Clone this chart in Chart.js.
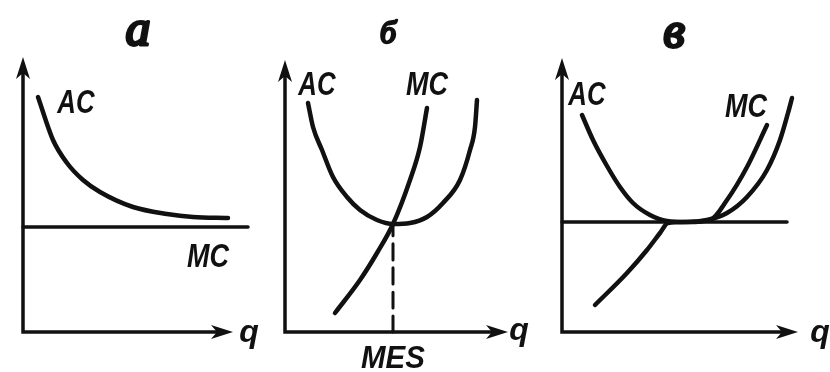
<!DOCTYPE html>
<html>
<head>
<meta charset="utf-8">
<script src="https://cdn.jsdelivr.net/npm/chart.js@4.4.1/dist/chart.umd.min.js"></script>
<style>
  body { margin: 0; background: #fff; }
  #wrap { position: relative; width: 830px; height: 372px; overflow: hidden; background: #fff; }
  #wrap canvas { position: absolute; top: 0; }
</style>
</head>
<body>
<div id="wrap"></div>
<script>
// а — falling AC over a flat MC
const acA_q = [1.5, 3.0, 4.4, 6.0, 7.7, 11.0, 14.4, 17.0, 20.5];
const acA_c = [23.5, 19.2, 16.9, 15.2, 14.0, 12.5, 11.8, 11.5, 11.4];
const mcA_q = [0, 22.5];
const mcA_c = [10.5, 10.5];

// б — U-shaped AC, MC crossing at its minimum (MES)
const acB_q = [2.3, 2.8, 3.7, 4.8, 6.2, 7.5, 9.2, 10.8, 12.5, 14.2, 15.8, 17.5, 18.5, 19.0, 19.2];
const acB_c = [22.9, 20.5, 18.2, 15.5, 13.5, 12.2, 11.2, 10.8, 10.9, 11.5, 12.9, 15.2, 18.2, 20.5, 23.2];
const mcB_q = [5.0, 7.5, 9.2, 10.8, 12.5, 13.5, 14.2];
const mcB_c = [1.9, 5.2, 7.9, 10.8, 15.2, 18.5, 22.4];
const mesB = 10.8;

// в — AC with a flat bottom, MC along the flat stretch
const acC_q = [2.0, 3.1, 4.5, 5.8, 7.1, 8.8, 10.5, 12.5, 14.5, 16.5, 18.5, 20.5, 21.8, 22.6, 23.0];
const acC_c = [21.7, 19.2, 16.6, 14.5, 12.9, 11.7, 11.1, 11.0, 11.2, 11.9, 13.5, 16.2, 19.2, 21.9, 23.4];
const mcC_q = [3.3, 6.5, 8.5, 9.8, 10.6, 12.5, 14.8, 16.5, 18.5, 20.5];
const mcC_c = [2.7, 5.9, 8.2, 9.9, 10.9, 11.0, 11.2, 13.2, 16.5, 20.7];
const minC_q = [0, 22.5];
const minC_c = [11.0, 11.0];

const pts = (qs, cs) => qs.map((q, i) => ({ x: q, y: cs[i] }));

const ink = '#111';
const labelFont = "italic bold 30px 'Liberation Sans', sans-serif";
const titleFont = "italic 50px 'Liberation Serif', serif";
const qFont = "italic bold 32px 'Liberation Sans', sans-serif";

function curve(data, width, dash) {
    return {
        data: data,
        borderColor: ink,
        borderWidth: width || 4.5,
        borderDash: dash || [],
        borderCapStyle: 'round',
        pointRadius: 0,
        fill: false,
        cubicInterpolationMode: 'monotone',
        clip: false
    };
}

function arrowHead(ctx, x, y, angle) {
    ctx.save();
    ctx.translate(x, y);
    ctx.rotate(angle);
    ctx.beginPath();
    ctx.moveTo(0, 0);
    ctx.lineTo(-22, -7);
    ctx.lineTo(-16, 0);
    ctx.lineTo(-22, 7);
    ctx.closePath();
    ctx.fill();
    ctx.restore();
}

// axes with arrowheads, drawn from the chart's own scales
const axesPlugin = {
    id: 'arrowAxes',
    beforeDatasetsDraw(chart, args, opts) {
        const { ctx, scales: { x, y } } = chart;
        const x0 = x.getPixelForValue(0), y0 = y.getPixelForValue(0);
        const xe = x.getPixelForValue(opts.qEnd), ye = y.getPixelForValue(opts.cEnd);
        ctx.save();
        ctx.strokeStyle = ink;
        ctx.fillStyle = ink;
        ctx.lineWidth = 3.5;
        ctx.lineCap = 'square';
        ctx.beginPath();
        ctx.moveTo(x0, ye + 10);
        ctx.lineTo(x0, y0);
        ctx.lineTo(xe - 10, y0);
        ctx.stroke();
        arrowHead(ctx, x0, ye, -Math.PI / 2);
        arrowHead(ctx, xe, y0, 0);
        ctx.restore();
    }
};

const labelsPlugin = {
    id: 'panelLabels',
    afterDatasetsDraw(chart, args, opts) {
        const { ctx, scales: { x, y } } = chart;
        ctx.save();
        ctx.fillStyle = ink;
        ctx.strokeStyle = ink;
        ctx.lineJoin = 'round';
        ctx.textAlign = 'center';
        ctx.textBaseline = 'alphabetic';
        opts.items.forEach(l => {
            ctx.save();
            ctx.translate(x.getPixelForValue(l.q), y.getPixelForValue(l.c));
            ctx.scale(l.sx || 1, l.sy || 1);
            ctx.font = l.font;
            ctx.fillText(l.text, 0, 0);
            if (l.weight) {
                // thicken the thin italic strokes
                ctx.lineWidth = l.weight;
                ctx.strokeText(l.text, 0, 0);
            }
            ctx.restore();
        });
        ctx.restore();
    }
};

function panel(left, datasets, axisEnd, labels) {
    const canvas = document.createElement('canvas');
    canvas.width = 290;
    canvas.height = 372;
    canvas.style.left = left + 'px';
    document.getElementById('wrap').appendChild(canvas);

    return new Chart(canvas.getContext('2d'), {
        type: 'line',
        data: { datasets: datasets },
        options: {
            responsive: false,
            animation: false,
            events: [],
            layout: { padding: { left: 20, right: 20, top: 52, bottom: 40 } },
            scales: {
                x: { type: 'linear', min: 0, max: 25, display: false },
                y: { type: 'linear', min: 0, max: 28, display: false }
            },
            plugins: {
                legend: { display: false },
                tooltip: { enabled: false },
                arrowAxes: axisEnd,
                panelLabels: { items: labels }
            }
        },
        plugins: [axesPlugin, labelsPlugin]
    });
}

panel(3, [
    curve(pts(acA_q, acA_c)),
    curve(pts(mcA_q, mcA_c), 3.5)
], { qEnd: 21.0, cEnd: 27.5 }, [
    { text: 'а', q: 11.5, c: 28.7, font: titleFont, weight: 3 },
    { text: 'AC', q: 5.3, c: 21.9, font: labelFont, sx: 0.86, sy: 1.08 },
    { text: 'MC', q: 18.5, c: 6.5, font: labelFont, sx: 0.9, sy: 1.08 },
    { text: 'q', q: 22.6, c: -1.0, font: qFont }
]);

panel(265, [
    curve(pts(acB_q, acB_c)),
    curve(pts(mcB_q, mcB_c)),
    curve(pts([mesB, mesB], [0, 10.8]), 3, [16, 8])
], { qEnd: 22.3, cEnd: 27.2 }, [
    { text: 'б', q: 10.3, c: 28.9, font: "italic 32px 'Liberation Serif', serif", weight: 2.5 },
    { text: 'AC', q: 3.2, c: 23.7, font: labelFont, sx: 0.86, sy: 1.08 },
    { text: 'MC', q: 14.2, c: 23.7, font: labelFont, sx: 0.9, sy: 1.08 },
    { text: 'MES', q: mesB, c: -3.6, font: "italic bold 31px 'Liberation Sans', sans-serif", sx: 0.95 },
    { text: 'q', q: 23.4, c: -0.8, font: qFont }
]);

panel(542, [
    curve(pts(minC_q, minC_c), 3.5),
    curve(pts(acC_q, acC_c)),
    curve(pts(mcC_q, mcC_c))
], { qEnd: 23.6, cEnd: 27.4 }, [
    { text: 'в', q: 11.2, c: 28.5, font: titleFont, weight: 3 },
    { text: 'AC', q: 2.5, c: 22.7, font: labelFont, sx: 0.86, sy: 1.08 },
    { text: 'MC', q: 18.4, c: 21.5, font: labelFont, sx: 0.9, sy: 1.08 },
    { text: 'q', q: 25.8, c: -1.0, font: qFont }
]);
</script>
</body>
</html>
